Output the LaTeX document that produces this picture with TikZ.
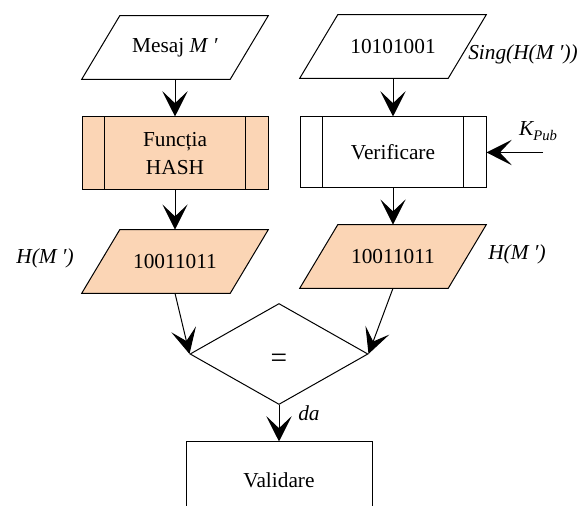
\documentclass[tikz,border=0pt]{standalone}
\usepackage{fontspec}
\setmainfont{Liberation Serif}
\usetikzlibrary{shapes.geometric,arrows.meta,backgrounds}

\definecolor{peach}{RGB}{251,213,181}

\tikzset{
	flow/.style={line width=0.75pt},
	arr/.style={flow,-{Stealth[length=19pt,width=19pt,inset=9pt]}},
	iobox/.style={rectangle,minimum width=111pt,minimum height=47.25pt,inner sep=0pt},
	procbox/.style={rectangle,draw,line width=0.75pt,minimum width=139.5pt,inner sep=0pt,align=center},
	decision/.style={diamond,draw,line width=0.75pt,minimum width=133.5pt,minimum height=75.75pt,inner sep=0pt},
	lbl/.style={inner sep=0pt,font=\fontsize{16}{19}\selectfont\itshape}
}

\begin{document}
\begin{tikzpicture}[x=0.75pt,y=0.75pt,yscale=-1,xscale=1,font=\fontsize{16}{21}\selectfont]
	\useasboundingbox (0,0) rectangle (587,506);
	\clip (0,0) rectangle (587,506);
	\node[iobox] (msg) at (175,47.5) {Mesaj \textit{M ′}};
	\node[iobox] (sig) at (393,46.5) {10101001};
	\node[procbox,fill=peach,minimum height=54.75pt] (hash) at (175,153.5) {Funcția\\HASH};
	\node[procbox,minimum height=53.25pt] (verif) at (393,152.5) {Verificare};
	\node[iobox] (hm1) at (175,261.5) {10011011};
	\node[iobox] (hm2) at (393,256.5) {10011011};
	\node[decision] (eq) at (279,354) {\smash{\raisebox{-10.5pt}{\fontsize{22}{22}\selectfont =}}};
	\node[procbox,minimum height=57pt] (valid) at (279,480) {Validare};
	% slanted input/output boxes, kept under their texts
	\begin{scope}[on background layer]
		\foreach \n/\c in {msg/white,sig/white,hm1/peach,hm2/peach}
			\draw[flow,fill=\c] ([xshift=-14.25pt]\n.south west) -- ([xshift=14.25pt]\n.north west) -- ([xshift=14.25pt]\n.north east) -- ([xshift=-14.25pt]\n.south east) -- cycle;
	\end{scope}
	\foreach \n in {hash,verif}{
		\draw[flow] ([xshift=17.25pt]\n.north west) -- ([xshift=17.25pt]\n.south west);
		\draw[flow] ([xshift=-17.25pt]\n.north east) -- ([xshift=-17.25pt]\n.south east);
	}
	\node[lbl,anchor=west] (sigtxt) at (468,54) {Sing(H(M ′))};
	\node[lbl] (keytxt) at (538,131) {K\raisebox{-4pt}{\fontsize{11}{11}\selectfont Pub}};
	\node[lbl,anchor=east] (h1txt) at (74,258) {H(M ′)};
	\node[lbl,anchor=west] (h2txt) at (488,254) {H(M ′)};
	\node[lbl,anchor=west] (datxt) at (298,413) {da};
	\coordinate (kin) at (543,152.5);
	\draw[arr] (msg) -- (hash);
	\draw[arr] (sig) -- (verif);
	\draw[arr] (hash) -- (hm1);
	\draw[arr] (verif) -- (hm2);
	\draw[arr] (kin) -- (verif.east);
	\draw[arr] (hm1.south) -- (eq.west);
	\draw[arr] (hm2.south) -- (eq.east);
	\draw[arr] (eq) -- (valid);
\end{tikzpicture}
\end{document}
